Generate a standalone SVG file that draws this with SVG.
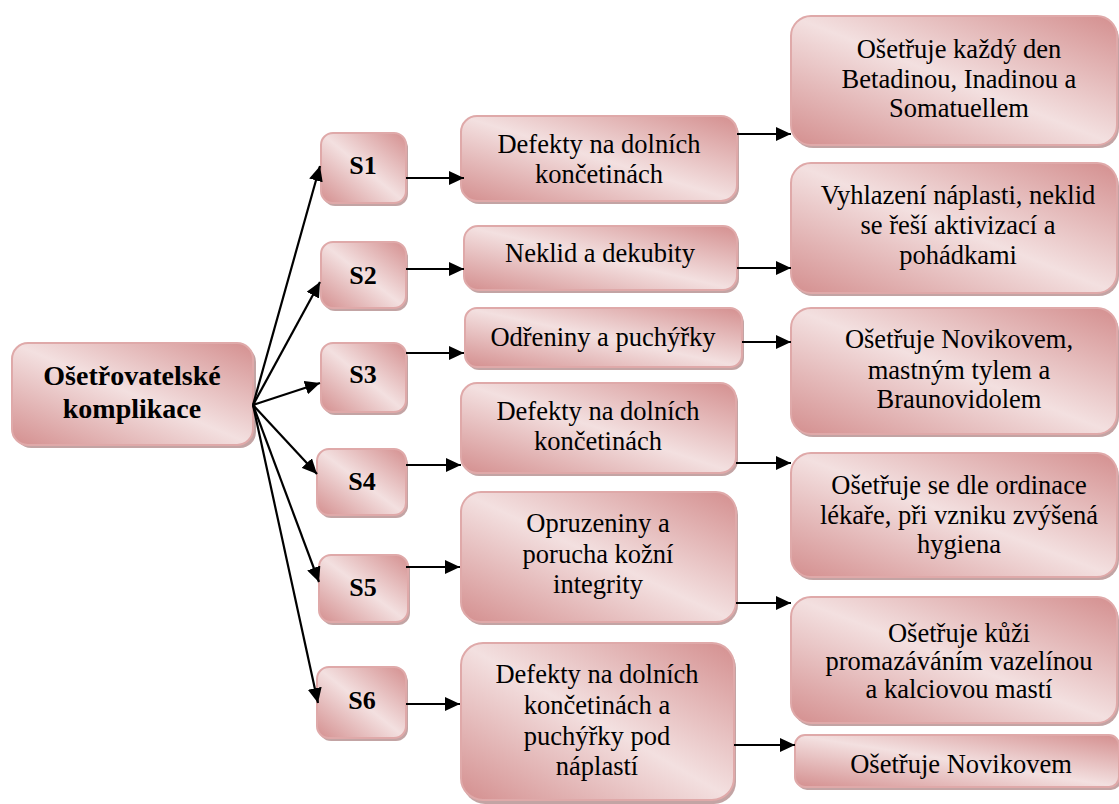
<svg xmlns="http://www.w3.org/2000/svg" width="1119" height="804" viewBox="0 0 1119 804">
  <defs>
    <linearGradient id="pink" x1="0" y1="1" x2="1" y2="0">
      <stop offset="0" stop-color="#d48f8f"/>
      <stop offset="0.5" stop-color="#f3e0e0"/>
      <stop offset="1" stop-color="#d48f8f"/>
    </linearGradient>
    <marker id="arrow" markerUnits="userSpaceOnUse" markerWidth="16" markerHeight="14" refX="15" refY="7" orient="auto">
      <path d="M0,0 L15,7 L0,14 z" fill="#000"/>
    </marker>
  </defs>
  <rect width="1119" height="804" fill="#fff"/>

  <!-- all nodes share the shadow, gradient fill and serif text settings -->
  <g font-family="Liberation Serif" font-size="26.5" text-anchor="middle" fill="#000">

  <!-- root -->
  <g id="root">
    <rect fill="#b99494" opacity="0.85" x="15" y="346" width="241" height="102" rx="16"/>
    <rect fill="url(#pink)" stroke="#dfa9a9" stroke-width="2" x="12" y="343" width="241" height="102" rx="16"/>
    <text x="132" y="385" font-weight="bold" font-size="28">Ošetřovatelské</text>
    <text x="132" y="418" font-weight="bold" font-size="28">komplikace</text>
  </g>

  <!-- S nodes -->
  <g id="s1">
    <rect fill="#b99494" opacity="0.85" x="323" y="136" width="85" height="70" rx="12"/>
    <rect fill="url(#pink)" stroke="#dfa9a9" stroke-width="2" x="321" y="133" width="85" height="70" rx="12"/>
    <text x="363" y="174" font-weight="bold" font-size="26">S1</text>
  </g>
  <g id="s2">
    <rect fill="#b99494" opacity="0.85" x="323" y="245" width="85" height="66" rx="12"/>
    <rect fill="url(#pink)" stroke="#dfa9a9" stroke-width="2" x="321" y="242" width="85" height="66" rx="12"/>
    <text x="363" y="284" font-weight="bold" font-size="26">S2</text>
  </g>
  <g id="s3">
    <rect fill="#b99494" opacity="0.85" x="323" y="346" width="85" height="69" rx="12"/>
    <rect fill="url(#pink)" stroke="#dfa9a9" stroke-width="2" x="321" y="343" width="85" height="69" rx="12"/>
    <text x="363" y="383" font-weight="bold" font-size="26">S3</text>
  </g>
  <g id="s4">
    <rect fill="#b99494" opacity="0.85" x="319" y="452" width="89" height="66" rx="12"/>
    <rect fill="url(#pink)" stroke="#dfa9a9" stroke-width="2" x="317" y="449" width="89" height="66" rx="12"/>
    <text x="362" y="490" font-weight="bold" font-size="26">S4</text>
  </g>
  <g id="s5">
    <rect fill="#b99494" opacity="0.85" x="321" y="558" width="89" height="67" rx="12"/>
    <rect fill="url(#pink)" stroke="#dfa9a9" stroke-width="2" x="319" y="555" width="89" height="67" rx="12"/>
    <text x="363" y="596" font-weight="bold" font-size="26">S5</text>
  </g>
  <g id="s6">
    <rect fill="#b99494" opacity="0.85" x="319" y="670" width="89" height="71" rx="12"/>
    <rect fill="url(#pink)" stroke="#dfa9a9" stroke-width="2" x="317" y="667" width="89" height="71" rx="12"/>
    <text x="362" y="709" font-weight="bold" font-size="26">S6</text>
  </g>

  <!-- problem boxes -->
  <g id="p1">
    <rect fill="#b99494" opacity="0.85" x="463" y="119" width="276" height="85" rx="16"/>
    <rect fill="url(#pink)" stroke="#dfa9a9" stroke-width="2" x="461" y="116" width="276" height="85" rx="16"/>
    <text x="599" y="153">Defekty na dolních</text>
    <text x="599" y="183">končetinách</text>
  </g>
  <g id="p2">
    <rect fill="#b99494" opacity="0.85" x="466" y="229" width="273" height="64" rx="14"/>
    <rect fill="url(#pink)" stroke="#dfa9a9" stroke-width="2" x="464" y="226" width="273" height="64" rx="14"/>
    <text x="600" y="262">Neklid a dekubity</text>
  </g>
  <g id="p3">
    <rect fill="#b99494" opacity="0.85" x="467" y="311" width="277" height="59" rx="12"/>
    <rect fill="url(#pink)" stroke="#dfa9a9" stroke-width="2" x="465" y="308" width="277" height="59" rx="12"/>
    <text x="603" y="346">Odřeniny a puchýřky</text>
  </g>
  <g id="p4">
    <rect fill="#b99494" opacity="0.85" x="463" y="386" width="275" height="90" rx="16"/>
    <rect fill="url(#pink)" stroke="#dfa9a9" stroke-width="2" x="461" y="383" width="275" height="90" rx="16"/>
    <text x="598" y="420">Defekty na dolních</text>
    <text x="598" y="450">končetinách</text>
  </g>
  <g id="p5">
    <rect fill="#b99494" opacity="0.85" x="463" y="495" width="275" height="130" rx="20"/>
    <rect fill="url(#pink)" stroke="#dfa9a9" stroke-width="2" x="461" y="492" width="275" height="130" rx="20"/>
    <text x="598" y="532">Opruzeniny a</text>
    <text x="598" y="563">porucha kožní</text>
    <text x="598" y="593">integrity</text>
  </g>
  <g id="p6">
    <rect fill="#b99494" opacity="0.85" x="463" y="646" width="273" height="158" rx="22"/>
    <rect fill="url(#pink)" stroke="#dfa9a9" stroke-width="2" x="461" y="643" width="273" height="157" rx="22"/>
    <text x="597" y="683">Defekty na dolních</text>
    <text x="597" y="714">končetinách a</text>
    <text x="597" y="745">puchýřky pod</text>
    <text x="597" y="775">náplastí</text>
  </g>

  <!-- treatment boxes -->
  <g id="r1">
    <rect fill="#b99494" opacity="0.85" x="793" y="19" width="326" height="129" rx="20"/>
    <rect fill="url(#pink)" stroke="#dfa9a9" stroke-width="2" x="791" y="16" width="326" height="129" rx="20"/>
    <text x="959" y="58">Ošetřuje každý den</text>
    <text x="959" y="88">Betadinou, Inadinou a</text>
    <text x="959" y="117">Somatuellem</text>
  </g>
  <g id="r2">
    <rect fill="#b99494" opacity="0.85" x="793" y="166" width="326" height="130" rx="20"/>
    <rect fill="url(#pink)" stroke="#dfa9a9" stroke-width="2" x="791" y="163" width="326" height="130" rx="20"/>
    <text x="958" y="204">Vyhlazení náplasti, neklid</text>
    <text x="958" y="234">se řeší aktivizací a</text>
    <text x="958" y="264">pohádkami</text>
  </g>
  <g id="r3">
    <rect fill="#b99494" opacity="0.85" x="793" y="311" width="326" height="126" rx="20"/>
    <rect fill="url(#pink)" stroke="#dfa9a9" stroke-width="2" x="791" y="308" width="326" height="126" rx="20"/>
    <text x="959" y="348">Ošetřuje Novikovem,</text>
    <text x="959" y="379">mastným tylem a</text>
    <text x="959" y="408">Braunovidolem</text>
  </g>
  <g id="r4">
    <rect fill="#b99494" opacity="0.85" x="793" y="456" width="326" height="124" rx="20"/>
    <rect fill="url(#pink)" stroke="#dfa9a9" stroke-width="2" x="791" y="453" width="326" height="124" rx="20"/>
    <text x="959" y="494">Ošetřuje se dle ordinace</text>
    <text x="959" y="524">lékaře, při vzniku zvýšená</text>
    <text x="959" y="553">hygiena</text>
  </g>
  <g id="r5">
    <rect fill="#b99494" opacity="0.85" x="793" y="600" width="326" height="126" rx="20"/>
    <rect fill="url(#pink)" stroke="#dfa9a9" stroke-width="2" x="791" y="597" width="326" height="126" rx="20"/>
    <text x="959" y="642">Ošetřuje kůži</text>
    <text x="959" y="670">promazáváním vazelínou</text>
    <text x="959" y="698">a kalciovou mastí</text>
  </g>
  <g id="r6">
    <rect fill="#b99494" opacity="0.85" x="797" y="738" width="324" height="52" rx="10"/>
    <rect fill="url(#pink)" stroke="#dfa9a9" stroke-width="2" x="795" y="735" width="324" height="52" rx="10"/>
    <text x="961" y="773">Ošetřuje Novikovem</text>
  </g>
  </g>

  <!-- connectors -->
  <g id="connectors" stroke="#000" stroke-width="2.2" fill="none" marker-end="url(#arrow)">
    <line x1="253" y1="405" x2="320" y2="166"/>
    <line x1="253" y1="405" x2="320" y2="282"/>
    <line x1="253" y1="405" x2="320" y2="383"/>
    <line x1="253" y1="405" x2="317" y2="474"/>
    <line x1="253" y1="405" x2="319" y2="582"/>
    <line x1="253" y1="405" x2="318" y2="703"/>

    <line x1="406" y1="178" x2="464" y2="178"/>
    <line x1="406" y1="269" x2="464" y2="269"/>
    <line x1="406" y1="353" x2="464" y2="353"/>
    <line x1="406" y1="465" x2="461" y2="465"/>
    <line x1="406" y1="567" x2="460" y2="567"/>
    <line x1="406" y1="704" x2="460" y2="704"/>

    <line x1="737" y1="134" x2="791" y2="134"/>
    <line x1="737" y1="268" x2="791" y2="268"/>
    <line x1="742" y1="342" x2="791" y2="342"/>
    <line x1="736" y1="463" x2="791" y2="463"/>
    <line x1="736" y1="603" x2="791" y2="603"/>
    <line x1="734" y1="745" x2="795" y2="745"/>
  </g>
</svg>
